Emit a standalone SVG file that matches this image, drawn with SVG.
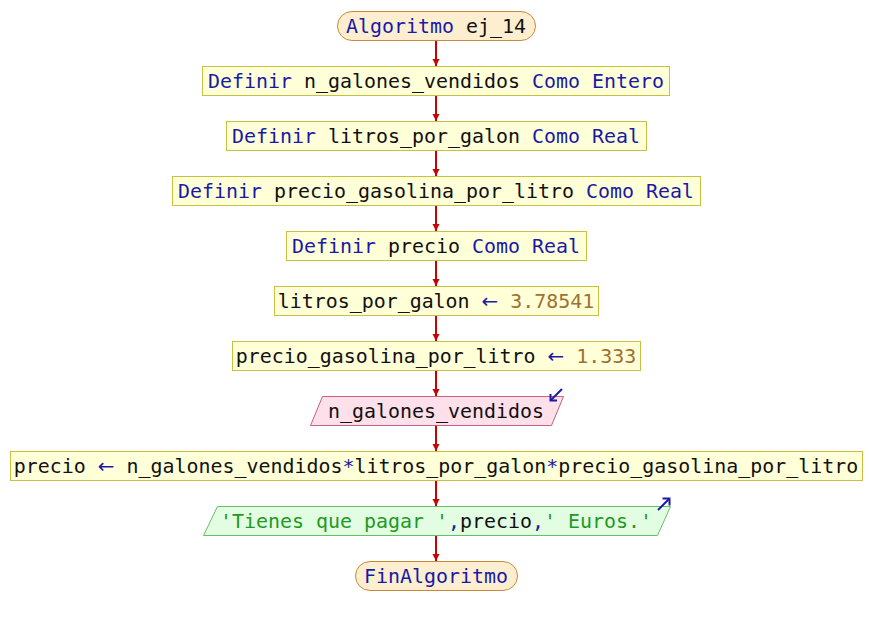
<svg xmlns="http://www.w3.org/2000/svg" width="872" height="625" viewBox="0 0 872 625">
  <style>
    text { font-family: "DejaVu Sans Mono", "Liberation Mono", monospace; font-size: 19.93px; fill: #111111; white-space: pre; }
    .kw { fill: #1a1aa6; }
    .num { fill: #a07030; }
    .str { fill: #229922; }
    .op { fill: #1a1aa6; }
    .arr { fill: #1a1aa6; font-family: "DejaVu Sans", sans-serif; }
    .term { fill: #fdeed0; stroke: #c88a3a; stroke-width: 1; }
    .proc { fill: #ffffd8; stroke: #c8c040; stroke-width: 1; }
    .inp { fill: #fde0ea; stroke: #c86080; stroke-width: 1; }
    .outp { fill: #e2fde2; stroke: #66c066; stroke-width: 1; }
    .flow { stroke: #cc0000; stroke-width: 2; fill: none; }
    .io { stroke: #1a1aa6; stroke-width: 2; fill: none; }
  </style>
  <defs>
    <marker id="ah" viewBox="0 0 10 10" refX="10" refY="5" markerWidth="7" markerHeight="9" markerUnits="userSpaceOnUse" orient="auto">
      <path d="M0,0 L10,5 L0,10 z" fill="#cc0000"/>
    </marker>
  </defs>

  <g id="connectors">
    <line class="flow" x1="436" y1="40" x2="436" y2="66" marker-end="url(#ah)"/>
    <line class="flow" x1="436" y1="95" x2="436" y2="121" marker-end="url(#ah)"/>
    <line class="flow" x1="436" y1="150" x2="436" y2="176" marker-end="url(#ah)"/>
    <line class="flow" x1="436" y1="205" x2="436" y2="231" marker-end="url(#ah)"/>
    <line class="flow" x1="436" y1="260" x2="436" y2="286" marker-end="url(#ah)"/>
    <line class="flow" x1="436" y1="315" x2="436" y2="341" marker-end="url(#ah)"/>
    <line class="flow" x1="436" y1="370" x2="436" y2="396" marker-end="url(#ah)"/>
    <line class="flow" x1="436" y1="425" x2="436" y2="451" marker-end="url(#ah)"/>
    <line class="flow" x1="436" y1="480" x2="436" y2="506" marker-end="url(#ah)"/>
    <line class="flow" x1="436" y1="535" x2="436" y2="561" marker-end="url(#ah)"/>
  </g>

  <g id="start">
    <rect class="term" x="337.5" y="11.5" width="198" height="29" rx="14.5"/>
    <text x="436" y="33" text-anchor="middle"><tspan class="kw">Algoritmo</tspan> ej_14</text>
  </g>

  <g id="def1">
    <rect class="proc" x="202.5" y="66.5" width="467" height="29"/>
    <text x="436" y="88" text-anchor="middle"><tspan class="kw">Definir</tspan> n_galones_vendidos <tspan class="kw">Como Entero</tspan></text>
  </g>

  <g id="def2">
    <rect class="proc" x="226.5" y="121.5" width="420" height="29"/>
    <text x="436" y="143" text-anchor="middle"><tspan class="kw">Definir</tspan> litros_por_galon <tspan class="kw">Como Real</tspan></text>
  </g>

  <g id="def3">
    <rect class="proc" x="172.5" y="176.5" width="528" height="29"/>
    <text x="436" y="198" text-anchor="middle"><tspan class="kw">Definir</tspan> precio_gasolina_por_litro <tspan class="kw">Como Real</tspan></text>
  </g>

  <g id="def4">
    <rect class="proc" x="286.5" y="231.5" width="300" height="29"/>
    <text x="436" y="253" text-anchor="middle"><tspan class="kw">Definir</tspan> precio <tspan class="kw">Como Real</tspan></text>
  </g>

  <g id="assign1">
    <rect class="proc" x="274.5" y="286.5" width="324" height="29"/>
    <text x="436" y="308" text-anchor="middle">litros_por_galon <tspan class="arr">←</tspan> <tspan class="num">3.78541</tspan></text>
  </g>

  <g id="assign2">
    <rect class="proc" x="232.5" y="341.5" width="408" height="29"/>
    <text x="436" y="363" text-anchor="middle">precio_gasolina_por_litro <tspan class="arr">←</tspan> <tspan class="num">1.333</tspan></text>
  </g>

  <g id="read">
    <polygon class="inp" points="322.5,396.5 563.5,396.5 551.5,425.5 310.5,425.5"/>
    <line class="io" x1="562" y1="389" x2="551" y2="400"/>
    <polyline class="io" points="550.5,394 550.5,400.5 557,400.5"/>
    <text x="436" y="418" text-anchor="middle">n_galones_vendidos</text>
  </g>

  <g id="assign3">
    <rect class="proc" x="10.5" y="451.5" width="852" height="29"/>
    <text x="436" y="473" text-anchor="middle">precio <tspan class="arr">←</tspan> n_galones_vendidos<tspan class="op">*</tspan>litros_por_galon<tspan class="op">*</tspan>precio_gasolina_por_litro</text>
  </g>

  <g id="write">
    <polygon class="outp" points="217.5,506.5 670.5,506.5 657.5,535.5 203.5,535.5"/>
    <line class="io" x1="658" y1="510" x2="669" y2="499"/>
    <polyline class="io" points="662.5,498.5 669.5,498.5 669.5,505.5"/>
    <text x="436" y="528" text-anchor="middle"><tspan class="str">'Tienes que pagar '</tspan><tspan class="op">,</tspan>precio<tspan class="op">,</tspan><tspan class="str">' Euros.'</tspan></text>
  </g>

  <g id="end">
    <rect class="term" x="355.5" y="561.5" width="162" height="29" rx="14.5"/>
    <text x="436" y="583" text-anchor="middle" class="kw">FinAlgoritmo</text>
  </g>
</svg>
